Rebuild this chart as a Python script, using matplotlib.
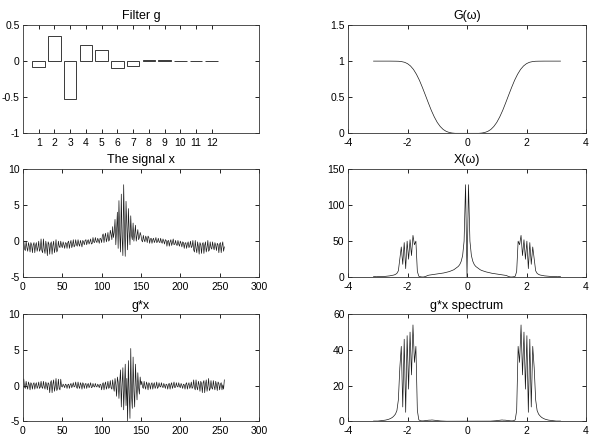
import numpy as np
import matplotlib
matplotlib.use("Agg")
import matplotlib.pyplot as plt

plt.rcParams['font.family'] = ['Liberation Sans', 'DejaVu Sans']
plt.rcParams['font.size'] = 7.5
plt.rcParams['axes.unicode_minus'] = False

# filter taps, bars 1..12
g = [-0.079, 0.350, -0.531, 0.223, 0.160, -0.092, -0.069, 0.020, 0.022, 0.0004, -0.003, -0.001]

# G(w) curve
g_freq = [-3.1416, -3.0, -2.8, -2.6, -2.4, -2.3, -2.2, -2.1, -2.0, -1.9, -1.8, -1.7, -1.6,
          -1.5, -1.4, -1.3, -1.2, -1.1, -1.0, -0.9, -0.8, -0.7, -0.6, -0.5, -0.4,
          0.0,
          0.4, 0.5, 0.6, 0.7, 0.8, 0.9, 1.0, 1.1, 1.2, 1.3, 1.4, 1.5,
          1.6, 1.7, 1.8, 1.9, 2.0, 2.1, 2.2, 2.3, 2.4, 2.6, 2.8, 3.0, 3.1416]
g_resp = [1.0, 1.0, 1.0, 1.0, 0.999, 0.998, 0.993, 0.984, 0.965, 0.933, 0.885, 0.818, 0.735,
          0.636, 0.530, 0.422, 0.318, 0.227, 0.151, 0.094, 0.053, 0.027, 0.012, 0.004, 0.0,
          0.0,
          0.0, 0.004, 0.012, 0.027, 0.053, 0.094, 0.151, 0.227, 0.318, 0.422, 0.530, 0.636,
          0.735, 0.818, 0.885, 0.933, 0.965, 0.984, 0.993, 0.998, 0.999, 1.0, 1.0, 1.0, 1.0]

# the signal x, samples 1..256
x = [0.0, -1.1, -1.3, 0.0, -0.9, -1.4, -0.2, -0.7, -1.5, -0.2, -0.5,
     -1.6, -0.5, -0.2, -1.6, -0.6, -0.2, -1.4, -0.9, 0.0, -1.4, -1.1,
     0.3, -1.3, -1.6, 0.3, -1.1, -1.7, 0.0, -0.7, -2.0, -0.1, -0.4,
     -1.8, -0.4, -0.1, -1.8, -0.6, 0.0, -1.6, -0.9, 0.2, -1.5, -1.2,
     0.0, -0.7, -0.9, 0.0, -0.6, -0.9, -0.1, -0.5, -1.0, -0.2, -0.3,
     -1.0, -0.2, 0.0, -1.0, -0.3, 0.1, -0.9, -0.5, 0.2, -0.8, -0.6,
     0.2, -0.5, -0.7, 0.2, -0.4, -0.7, 0.1, -0.3, -0.8, 0.1, -0.1,
     -0.5, 0.1, 0.2, -0.5, 0.0, 0.2, -0.4, -0.1, 0.3, -0.4, -0.3,
     0.5, -0.1, -0.2, 0.5, 0.0, -0.2, 0.4, 0.1, -0.3, 0.4, 0.3,
     -0.2, 0.8, 1.0, -0.2, 0.6, 1.1, -0.1, 0.4, 1.2, 0.0, 0.2,
     1.5,
     1.0, 0.2, 2.0, 0.5, 1.2, 3.0, -0.5, 1.5, 4.0, -1.0, 5.6, 1.0, -1.5,
     6.5, 0.5, -2.0, 7.8, 1.5, -2.1, 5.5, 2.0, -1.2, 4.5, 1.5, -0.5, 3.5,
     0.8, 0.2, 2.5, 0.0, 1.0, 2.2, 0.0, 0.8, 1.6, 0.2, 0.5, 1.2,
     0.8, 0.1, -0.1, 0.8, 0.2, -0.1, 0.7, 0.4, -0.2, 0.7, 0.5,
     -0.3, 0.3, 0.4, -0.3, 0.2, 0.4, -0.2, 0.1, 0.5, -0.2, -0.1,
     0.4, -0.1, -0.2, 0.4, -0.1, -0.3, 0.3, 0.0, -0.4, 0.2, 0.1,
     -0.7, 0.0, 0.1, -0.7, -0.1, 0.2, -0.6, -0.2, 0.3, -0.5, -0.4,
     0.1, -0.5, -0.6, 0.1, -0.4, -0.7, 0.0, -0.3, -0.8, -0.1, -0.2,
     -1.0, -0.3, -0.2, -1.0, -0.4, -0.1, -0.9, -0.6, 0.0, -0.9, -0.7,
     0.1, -1.2, -1.5, 0.1, -1.0, -1.6, -0.1, -0.8, -1.8, -0.2, -0.5,
     -1.7, -0.4, -0.2, -1.7, -0.6, -0.1, -1.5, -0.9, 0.1, -1.4, -1.2,
     -0.1, -0.9, -1.1, -0.1, -0.8, -1.2, -0.2, -0.6, -1.3, -0.3, -0.5,
     -1.6, -0.4, -0.2, -1.6, -0.6, -0.1, -1.4, -0.8]

# filtered signal g*x
gx = [0.9, -0.2, -0.4, 0.6, -0.1, -0.5, 0.5, 0.1, -0.6, 0.4, 0.2,
      -0.5, 0.2, 0.4, -0.5, 0.1, 0.4, -0.4, -0.1, 0.5, -0.4, -0.2,
      0.6, -0.2, -0.4, 0.6, -0.1, -0.5, 0.5, 0.1, -0.6, 0.4, 0.2,
      -1.0, 0.4, 0.7, -1.0, 0.2, 0.8, -0.8, -0.1, 1.0, -0.7, -0.4,
      0.9, -0.4, -0.6, 0.9, -0.1, -0.2, 0.2, 0.0, -0.3, 0.2, 0.1,
      -0.4, 0.1, 0.2, -0.4, 0.1, 0.3, -0.3, 0.0, 0.4, -0.2, -0.1,
      0.5, -0.2, -0.4, 0.5, -0.1, -0.4, 0.4, 0.1, -0.5, 0.4, 0.2,
      -0.4, 0.2, 0.3, -0.4, 0.1, 0.3, -0.3, 0.0, 0.4, -0.3, -0.2,
      0.3, -0.1, -0.2, 0.3, -0.1, -0.2, 0.2, 0.0, -0.3, 0.2, 0.1,
      -0.6, 0.2, 0.4, -0.6, 0.1, 0.5, -0.5, -0.1, 0.6, -0.4, -0.2,
      0.7, -0.3, -0.5, 0.8, -0.2, -0.8, 1.0, 0.1, -1.5, 1.2, 0.5,
      -1.8, 0.5, 2.2, -3.0, 0.2, 2.5, -3.4, 0.0, 3.0, -2.8, 1.0, -5.0, 3.5,
      -1.0, -4.6, 5.2, -1.5, -3.2, 4.0, -0.8, -3.0, 3.0, 0.0, -2.0, 1.8,
      -0.3, -1.2, 1.2, 0.1,
      0.6, -0.2, -0.4, 0.6, -0.1, -0.5, 0.5, 0.1, -0.6, 0.4, 0.2,
      -0.5, 0.2, 0.4, -0.5, 0.1, 0.4, -0.4, -0.1, 0.5, -0.4, -0.2,
      0.4, -0.1, -0.2, 0.4, -0.1, -0.3, 0.3, 0.0, -0.4, 0.2, 0.1,
      -0.5, 0.2, 0.3, -0.5, 0.1, 0.4, -0.4, 0.0, 0.5, -0.3, -0.2,
      0.4, -0.1, -0.2, 0.4, -0.1, -0.3, 0.3, 0.0, -0.4, 0.2, 0.1,
      -0.5, 0.2, 0.4, -0.5, 0.1, 0.4, -0.4, -0.1, 0.5, -0.4, -0.2,
      0.8, -0.3, -0.6, 0.8, -0.2, -0.6, 0.6, 0.1, -0.8, 0.6, 0.3,
      -1.0, 0.4, 0.7, -1.0, 0.2, 0.8, -0.8, -0.1, 1.0, -0.7, -0.4,
      0.7, -0.3, -0.5, 0.7, -0.1, -0.6, 0.6, 0.1, -0.7, 0.5, 0.3,
      -0.6, 0.2, 0.4, -0.6, 0.1, -0.5, 0.8]

# |X(w)| from -pi up to 0 (the spectrum is mirror symmetric)
x_spec_half = [1.0, 1.0, 0.8, 1.0, 1.1, 0.9, 1.0, 1.2, 1.3, 1.5,
               1.8, 2.0, 2.4, 2.8, 3.2, 4.0, 5.5, 9.0, 25, 42,
               18, 48, 12, 50, 25, 52, 30, 58, 45, 50,
               8, 1.5, 0.8, 0.5, 0.4, 0.8, 1.5, 2.5, 3.0, 3.3,
               3.6, 3.9, 4.2, 4.4, 4.7, 5.0, 5.3, 5.6, 6.0, 6.5,
               7.0, 7.5, 8.0, 8.8, 9.5, 10.5, 12, 13.5, 15, 17.5,
               22, 30, 50, 128, 0.5]

# |g*x spectrum| from -pi up to 0
gx_spec_half = [0.1, 0.1, 0.1, 0.1, 0.2, 0.3, 0.4, 0.5, 0.6, 0.8,
                1.0, 1.3, 1.7, 2.2, 3.0, 4.0, 6.0, 12, 30, 42,
                8, 46, 5, 48, 18, 50, 26, 54, 33, 42,
                6, 0.8, 0.3, 0.2, 0.2, 0.3, 0.4, 0.5, 0.6, 0.6,
                0.7, 0.6, 0.5, 0.4, 0.3, 0.2, 0.15, 0.1, 0.05, 0.0,
                0.0, 0.0, 0.0, 0.0, 0.0, 0.0, 0.0, 0.0, 0.0, 0.0,
                0.0, 0.0, 0.0, 0.0, 0.0]


def mirror(half):
    half = np.asarray(half, dtype=float)
    return np.concatenate([half, half[-2::-1]])


def style(ax, xlim, xticks, ylim, yticks, ylabels=None):
    ax.set_xlim(*xlim)
    ax.set_ylim(*ylim)
    ax.set_xticks(xticks)
    ax.set_yticks(yticks)
    if ylabels is not None:
        ax.set_yticklabels(ylabels)
    ax.tick_params(direction='in', top=True, right=True, length=3, width=0.6)
    ax.tick_params(axis='x', pad=3.5)
    ax.tick_params(axis='y', pad=2.5)
    for s in ax.spines.values():
        s.set_linewidth(0.6)
        s.set_color('#333333')


LINE = dict(color='#1a1a1a', lw=0.5)

fig = plt.figure(figsize=(6, 4.42), dpi=100)
lx, lw_ = 0.0383, 0.3933
rx, rw = 0.58, 0.3967
rows = [(0.6984, 0.245), (0.3726, 0.2455), (0.047, 0.242)]

ax1 = fig.add_axes([lx, rows[0][0], lw_, rows[0][1]])
ax2 = fig.add_axes([rx, rows[0][0], rw, rows[0][1]])
ax3 = fig.add_axes([lx, rows[1][0], lw_, rows[1][1]])
ax4 = fig.add_axes([rx, rows[1][0], rw, rows[1][1]])
ax5 = fig.add_axes([lx, rows[2][0], lw_, rows[2][1]])
ax6 = fig.add_axes([rx, rows[2][0], rw, rows[2][1]])

taps = np.arange(1, len(g) + 1)
ax1.bar(taps, g, width=0.8, facecolor='white', edgecolor='#1a1a1a', linewidth=0.6)
style(ax1, (0, 15), taps, (-1, 0.5), [-1, -0.5, 0, 0.5], ['-1', '-0.5', '0', '0.5'])
ax1.set_title('Filter g', pad=4)

ax2.plot(g_freq, g_resp, **LINE)
style(ax2, (-4, 4), [-4, -2, 0, 2, 4], (0, 1.5), [0, 0.5, 1, 1.5], ['0', '0.5', '1', '1.5'])
ax2.set_title('G(\u03c9)', pad=4)

n = np.arange(1, len(x) + 1)
ax3.plot(n, x, **LINE)
style(ax3, (0, 300), range(0, 301, 50), (-5, 10), [-5, 0, 5, 10])
ax3.set_title('The signal x', pad=4)

xs = mirror(x_spec_half)
ax4.plot(np.linspace(-np.pi, np.pi, len(xs)), xs, **LINE)
style(ax4, (-4, 4), [-4, -2, 0, 2, 4], (0, 150), [0, 50, 100, 150])
ax4.set_title('X(\u03c9)', pad=4)

n2 = np.arange(1, len(gx) + 1)
ax5.plot(n2, gx, **LINE)
style(ax5, (0, 300), range(0, 301, 50), (-5, 10), [-5, 0, 5, 10])
ax5.set_title('g*x', pad=4)

gs = mirror(gx_spec_half)
ax6.plot(np.linspace(-np.pi, np.pi, len(gs)), gs, **LINE)
style(ax6, (-4, 4), [-4, -2, 0, 2, 4], (0, 60), [0, 20, 40, 60])
ax6.set_title('g*x spectrum', pad=4)

fig.savefig('out.png', dpi=100)
